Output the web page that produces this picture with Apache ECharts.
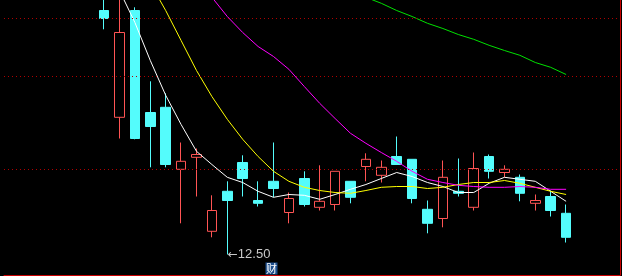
<!DOCTYPE html>
<html>
<head>
<meta charset="utf-8">
<script src="https://cdn.jsdelivr.net/npm/echarts@6/dist/echarts.min.js"></script>
<style>
html,body{margin:0;padding:0;background:#000;}
#chart{width:622px;height:276px;}
</style>
</head>
<body>
<div id="chart"></div>
<script>
var categories = ['T01','T02','T03','T04','T05','T06','T07','T08','T09','T10',
  'T11','T12','T13','T14','T15','T16','T17','T18','T19','T20',
  'T21','T22','T23','T24','T25','T26','T27','T28','T29','T30',
  'T31','T32','T33','T34','T35','T36','T37','T38','T39','T40'];

var openPrices = [null,null,null,null,null,null,
  18.60,15.93,18.60,16.05,16.18,14.63,14.93,13.08,14.08,14.80,
  13.85,14.33,13.55,14.40,13.68,13.75,14.33,14.70,14.48,14.95,
  14.88,13.63,13.40,14.08,13.68,14.95,14.55,14.43,13.78,13.95,13.53,
  null,null,null];
var closePrices = [null,null,null,null,null,null,
  18.40,18.05,15.40,15.70,14.75,14.83,15.00,13.60,13.85,14.40,
  13.78,14.15,13.90,13.75,13.83,14.58,13.93,14.88,14.68,14.75,
  13.90,13.28,14.43,14.03,14.65,14.58,14.63,14.03,13.85,13.60,12.93,
  null,null,null];
var lowPrices = [null,null,null,null,null,null,
  18.13,15.40,15.38,14.68,14.68,13.28,13.95,12.93,12.50,13.95,
  13.70,13.93,13.28,13.70,13.60,13.60,13.78,14.33,14.30,14.75,
  13.78,13.03,13.18,13.95,13.60,14.40,14.43,13.83,13.60,13.45,12.80,
  null,null,null];
var highPrices = [null,null,null,null,null,null,
  19.00,19.10,18.68,16.83,16.53,15.30,15.15,13.98,14.33,14.98,
  14.33,15.30,14.05,14.58,14.73,14.58,14.33,15.03,14.85,15.45,
  14.88,13.85,14.85,14.90,15.05,15.00,14.73,14.50,14.00,14.10,13.75,
  null,null,null];

var ma5 = [null,null,null,null,null,null,null,
  19.10,18.30,17.35,16.48,15.75,15.08,14.75,14.43,14.30,
  14.08,13.93,14.00,13.98,13.88,14.00,14.13,14.25,14.40,14.55,
  14.45,14.30,14.20,14.05,14.05,14.28,14.43,14.38,14.33,14.08,13.83,
  null,null,null];
var ma10 = [null,null,null,null,null,null,null,null,
  19.98,19.28,18.60,17.85,17.10,16.45,15.88,15.38,
  14.95,14.58,14.33,14.18,14.10,14.05,14.03,14.10,14.18,14.20,
  14.20,14.15,14.18,14.25,14.30,14.30,14.35,14.28,14.18,14.08,14.00,
  null,null,null];
var ma20 = [null,null,null,null,null,null,null,null,null,null,null,null,
  19.35,18.93,18.45,18.05,
  17.70,17.45,17.13,16.70,16.28,15.90,15.53,15.28,15.05,14.83,
  14.58,14.38,14.30,14.23,14.20,14.18,14.18,14.20,14.18,14.13,14.13,
  null,null,null];
var ma60 = [null,null,null,null,null,null,null,null,null,null,
  null,null,null,null,null,null,null,null,null,null,null,null,
  19.10,18.93,18.78,18.60,
  18.45,18.28,18.15,18.00,17.88,17.73,17.60,17.48,17.30,17.18,17.00,
  null,null,null];

var gridLevels = [18.40, 16.95, 14.625];
var lowLabelIndex = 14, lowLabelValue = 12.50, lowLabelText = '12.50';
var badgeIndex = 17, badgeValue = 12.15, badgeText = '财';

var candleData = categories.map(function (c, i) {
  if (openPrices[i] == null) return '-';
  return [openPrices[i], closePrices[i], lowPrices[i], highPrices[i]];
});

function maSeries(name, data, color) {
  return {
    name: name, type: 'line', data: data, symbol: 'none', smooth: false,
    connectNulls: false, z: 3, silent: true,
    lineStyle: { color: color, width: 1 }
  };
}

var chart = echarts.init(document.getElementById('chart'), null, { renderer: 'canvas' });
chart.setOption({
  animation: false,
  backgroundColor: '#000',
  grid: { left: 4, right: 2, top: 0, bottom: 1, containLabel: false },
  xAxis: {
    type: 'category', data: categories, boundaryGap: true,
    axisLine: { show: true, lineStyle: { color: '#c80000', width: 1 } },
    axisTick: { show: false }, axisLabel: { show: false }, splitLine: { show: false }
  },
  yAxis: {
    type: 'value', position: 'right', min: 11.9875, max: 18.8625,
    axisLine: { show: true, lineStyle: { color: '#c80000', width: 1 } },
    axisTick: { show: false }, axisLabel: { show: false }, splitLine: { show: false }
  },
  series: [
    {
      name: 'grid', type: 'line', data: [], z: 1, silent: true,
      markLine: {
        silent: true, symbol: 'none', label: { show: false },
        lineStyle: { color: '#b00000', width: 1, type: [1, 3] },
        data: gridLevels.map(function (v) { return { yAxis: v }; })
      }
    },
    {
      name: 'K', type: 'candlestick', data: candleData, barWidth: 10, z: 2,
      itemStyle: {
        color: '#000000', color0: '#54fcfc',
        borderColor: '#ff5454', borderColor0: '#54fcfc', borderWidth: 1
      },
      markPoint: {
        silent: true,
        data: [
          {
            coord: [categories[lowLabelIndex], lowLabelValue],
            symbol: 'circle', symbolSize: 1,
            itemStyle: { color: 'rgba(0,0,0,0)' },
            label: {
              show: true, position: 'right', distance: 0,
              formatter: '{a|←}{b|' + lowLabelText + '}',
              rich: {
                a: { color: '#c8c8c8', fontSize: 12, fontFamily: 'DejaVu Sans' },
                b: { color: '#c8c8c8', fontSize: 13, fontFamily: 'Liberation Sans' }
              }
            }
          },
          {
            coord: [categories[badgeIndex], badgeValue],
            symbol: 'rect', symbolSize: [12, 12], symbolOffset: [-2, 0],
            itemStyle: { color: '#1d4e8c' },
            label: {
              show: true, position: 'inside', formatter: badgeText,
              color: '#ffffff', fontSize: 11, fontFamily: 'Noto Sans CJK SC'
            }
          }
        ]
      }
    },
    maSeries('MA5', ma5, '#ffffff'),
    maSeries('MA10', ma10, '#ffff00'),
    maSeries('MA20', ma20, '#ff00ff'),
    maSeries('MA60', ma60, '#00e000')
  ]
});
</script>
</body>
</html>
